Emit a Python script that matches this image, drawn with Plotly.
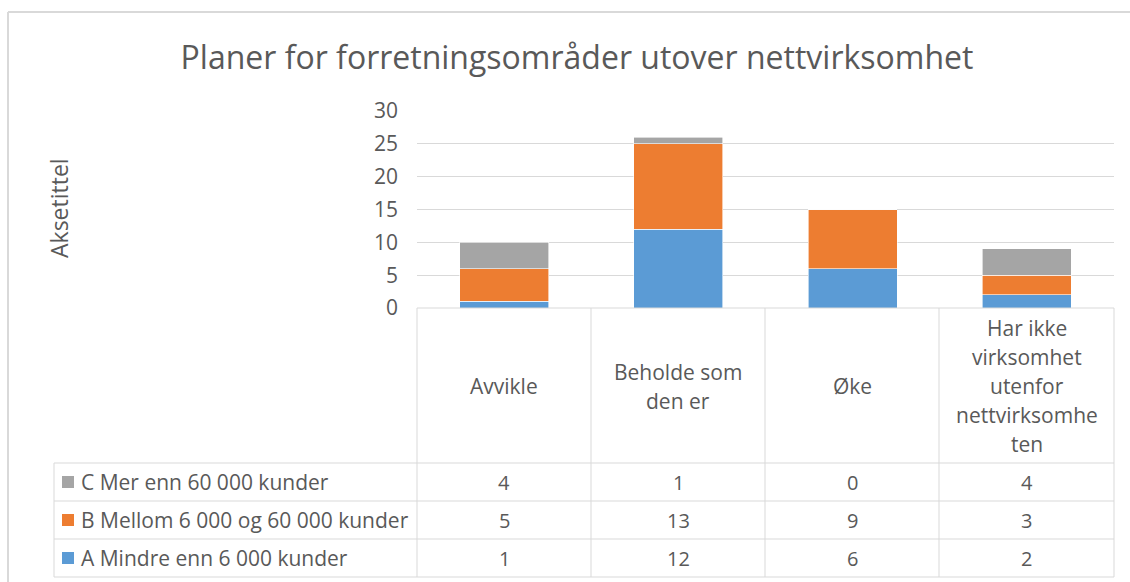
import plotly.graph_objects as go

# ---------------- data ----------------
categories = ["Avvikle", "Beholde som den er", "Øke",
              "Har ikke virksomhet utenfor nettvirksomheten"]
header_lines = [["Avvikle"],
                ["Beholde som", "den er"],
                ["Øke"],
                ["Har ikke", "virksomhet", "utenfor", "nettvirksomhe", "ten"]]
series_names = ["A Mindre enn 6 000 kunder",
                "B Mellom 6 000 og 60 000 kunder",
                "C Mer enn 60 000 kunder"]
a_values = [1, 12, 6, 2]
b_values = [5, 13, 9, 3]
c_values = [4, 1, 0, 4]
y_ticks = [0, 5, 10, 15, 20, 25, 30]
title_text = "Planer for forretningsområder utover nettvirksomhet"
y_title = "Aksetittel"

series_values = [a_values, b_values, c_values]
colors = ["#5B9BD5", "#ED7D31", "#A5A5A5"]

# ---------------- layout geometry ----------------
W, H = 1130, 582
X0, X1, Y0, Y1 = 417, 1114, 111, 308
FONT = "Open Sans"
TXT = "#595959"
GRID = "#D9D9D9"
TEXT_FS = 21
NUM_FS = 20
LINE_H = 29


def px(x):
    return (x - X0) / (X1 - X0)


def py(y):
    return (Y1 - y) / (Y1 - Y0)


fig = go.Figure()
for name, vals, col in zip(series_names, series_values, colors):
    fig.add_trace(go.Bar(
        x=categories, y=vals, name=name,
        marker=dict(color=col, line=dict(color="white", width=0.6)),
        width=0.51,
    ))

shapes = []


def line(x0, y0, x1, y1, color=GRID, width=1):
    shapes.append(dict(type="line", xref="paper", yref="paper",
                       x0=px(x0), y0=py(y0), x1=px(x1), y1=py(y1),
                       line=dict(color=color, width=width)))


# outer chart border (top and left visible)
line(8, 12, 1132, 12, color="#D9D9D9", width=2)
line(8, 12, 8, 584, color="#D9D9D9", width=2)

# data table grid
row_lines = [463, 501, 539, 577]
col_lines = [417, 591, 765, 939, 1114]
line(417, 308, 1114, 308)
for ry in row_lines:
    line(54, ry, 1114, ry)
for cx in col_lines:
    line(cx, 308, cx, 577)
line(54, 463, 54, 577)

annotations = []
# header cells (one annotation per text line for Excel-like line spacing)
header_center = 386
for cat, lines in zip(categories, header_lines):
    n = len(lines)
    for k, txt in enumerate(lines):
        ly = header_center + (k - (n - 1) / 2) * LINE_H
        annotations.append(dict(x=cat, xref="x", y=py(ly), yref="paper",
                                text=txt, showarrow=False, xanchor="center",
                                yanchor="middle",
                                font=dict(family=FONT, size=TEXT_FS, color=TXT)))

# rows: C, B, A from top
row_order = [2, 1, 0]
for r, si in enumerate(row_order):
    cy = (row_lines[r] + row_lines[r + 1]) / 2
    shapes.append(dict(type="rect", xref="paper", yref="paper",
                       x0=px(62), x1=px(74), y0=py(cy - 6), y1=py(cy + 6),
                       fillcolor=colors[si], line=dict(width=0)))
    annotations.append(dict(x=px(79), xref="paper", y=py(cy), yref="paper",
                            text=series_names[si], showarrow=False,
                            xanchor="left", yanchor="middle",
                            font=dict(family=FONT, size=TEXT_FS, color=TXT)))
    for cat, v in zip(categories, series_values[si]):
        annotations.append(dict(x=cat, xref="x", y=py(cy), yref="paper",
                                text=str(v), showarrow=False,
                                xanchor="center", yanchor="middle",
                                font=dict(family=FONT, size=NUM_FS, color=TXT)))

# y axis title
annotations.append(dict(x=px(59), xref="paper", y=py(208), yref="paper",
                        text=y_title, textangle=-90, showarrow=False,
                        xanchor="center", yanchor="middle",
                        font=dict(family=FONT, size=23, color=TXT)))

fig.update_layout(
    width=W, height=H,
    margin=dict(l=X0, r=W - X1, t=Y0, b=H - Y1, pad=0),
    paper_bgcolor="white", plot_bgcolor="white",
    barmode="stack", showlegend=False,
    title=dict(text=title_text, x=577 / W, xref="container", xanchor="center",
               y=1 - 58 / H, yref="container", yanchor="middle",
               font=dict(family=FONT, size=32, color=TXT)),
    xaxis=dict(showticklabels=False, showgrid=False, zeroline=False,
               showline=False, ticks=""),
    yaxis=dict(range=[0, 30], tickvals=y_ticks, showgrid=True, gridcolor=GRID,
               gridwidth=1, zeroline=False, showline=False, ticks="",
               ticklabelstandoff=18,
               tickfont=dict(family=FONT, size=21, color=TXT)),
    shapes=shapes, annotations=annotations,
)

fig.write_html("out.html", config={"displayModeBar": False},
               post_script="document.body.style.margin='0';document.body.style.overflow='hidden';")
